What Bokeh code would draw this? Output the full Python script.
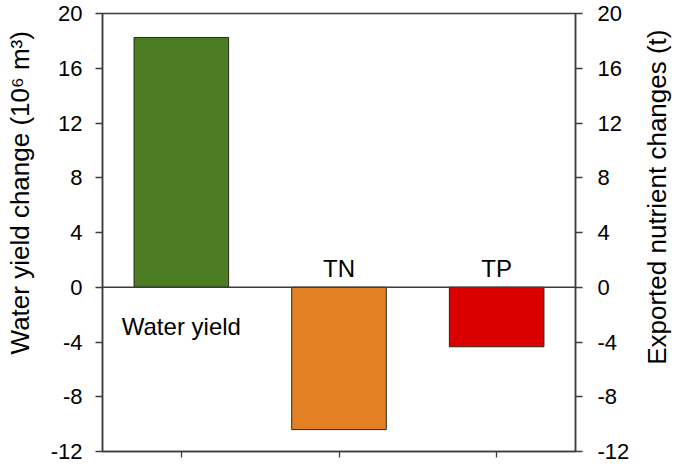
import math
from bokeh.plotting import figure
from bokeh.models import (ColumnDataSource, Range1d, LinearAxis, FixedTicker,
                          Span, FactorRange, CustomJSTickFormatter)
from bokeh.core.properties import value
from bokeh.embed import file_html
from bokeh.resources import INLINE

# ---- data ----
categories = ["Water yield", "TN", "TP"]
changes = [18.25, -10.4, -4.35]
y_ticks = [-12, -8, -4, 0, 4, 8, 12, 16, 20]
y_min, y_max = -12, 20
left_label = "Water yield change (10\u2076 m\u00b3)"
right_label = "Exported nutrient changes (t)"

# ---- style ----
bar_colors = ["#4b7b22", "#e38024", "#da0000"]
FONT = "Liberation Sans"
AX = "#3c3c3c"
NBSP = "\u00a0"

src = ColumnDataSource(dict(
    cat=categories, val=changes, color=bar_colors,
    yoff=[39 if v > 0 else -19 for v in changes],
))

p = figure(width=680, height=464, frame_width=473, frame_height=438,
           x_range=FactorRange(factors=categories),
           y_range=Range1d(y_min, y_max),
           output_backend="svg", toolbar_location=None,
           min_border_left=102, min_border_right=105,
           min_border_top=13, min_border_bottom=13)

p.vbar(x="cat", top="val", bottom=0, width=0.6, source=src,
       fill_color="color", line_color="#2a2a1a", line_width=1)

p.add_layout(Span(location=0, dimension="width", line_color=AX, line_width=1.3))

p.text(x="cat", y=0, text="cat", y_offset="yoff", source=src,
       text_align="center", text_baseline="alphabetic",
       text_font=value(FONT), text_font_size="24px", text_color="black")

p.xgrid.visible = False
p.ygrid.visible = False
p.outline_line_color = AX
p.outline_line_width = 1.5
p.background_fill_color = "white"
p.border_fill_color = "white"

# x axis: ticks only
xa = p.xaxis[0]
xa.axis_line_color = AX
xa.axis_line_width = 1.5
xa.major_tick_line_color = AX
xa.major_tick_line_width = 1.3
xa.major_tick_in = 0
xa.major_tick_out = 6
xa.major_label_text_color = None
xa.major_label_text_font_size = "1px"
xa.major_label_standoff = 0

fmt = CustomJSTickFormatter(code="return tick.toFixed(0);")

def style_y(ax):
    ax.ticker = FixedTicker(ticks=y_ticks)
    ax.formatter = fmt
    ax.axis_line_color = AX
    ax.axis_line_width = 1.5
    ax.major_tick_line_color = AX
    ax.major_tick_line_width = 1.3
    ax.major_tick_in = 0
    ax.major_tick_out = 7
    ax.minor_tick_line_color = None
    ax.major_label_text_font = FONT
    ax.major_label_text_font_size = "22px"
    ax.major_label_text_color = "black"
    ax.axis_label_text_font = FONT
    ax.axis_label_text_font_size = "26px"
    ax.axis_label_text_font_style = "normal"
    ax.axis_label_text_color = "black"

ya = p.yaxis[0]
style_y(ya)
ya.major_label_standoff = 13
# leading no-break spaces lift the centred title a little, as in the original
ya.axis_label = NBSP * 11 + left_label
ya.axis_label_standoff = 13

p.extra_y_ranges = {"right": Range1d(y_min, y_max)}
ra = LinearAxis(y_range_name="right", axis_label=NBSP * 12 + right_label)
style_y(ra)
ra.major_label_standoff = 15
ra.axis_label_standoff = 25
ra.axis_label_orientation = math.pi / 2   # read bottom to top
ra.axis_label_align = "start"
p.add_layout(ra, "right")

open("out.html", "w").write(file_html(p, INLINE))
